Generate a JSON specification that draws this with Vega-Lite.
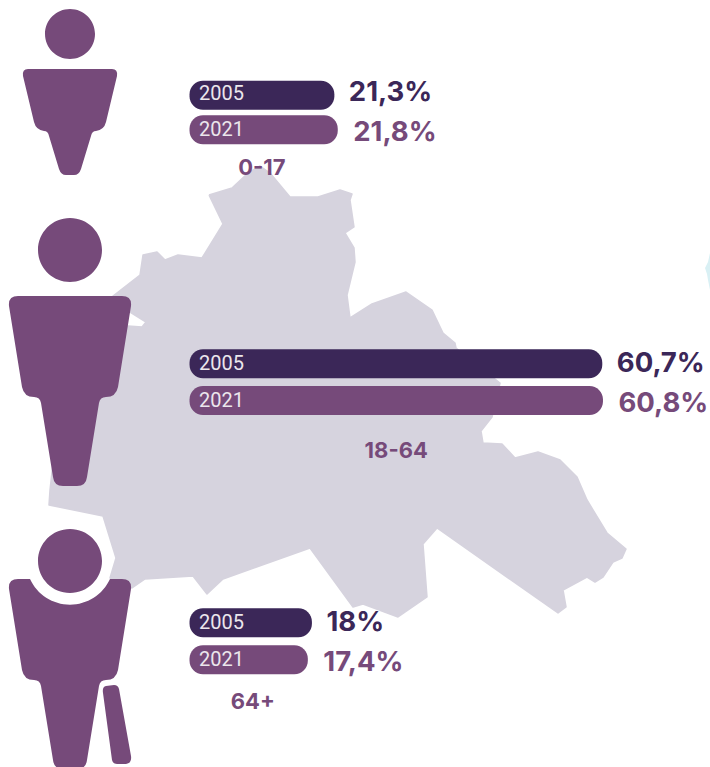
{
"$schema":"https://vega.github.io/schema/vega-lite/v6.json",
"width":710,"height":767,"padding":0,
"autosize":{"type":"none"},
"background":"#ffffff",
"view":{"stroke":null},
"config":{"view":{"stroke":null}},
"datasets":{
"bars":[
{"row":1,"age":"0-17","year":"2005","share":21.3,"label":"21,3%"},
{"row":2,"age":"0-17","year":"2021","share":21.8,"label":"21,8%"},
{"row":4,"age":"18-64","year":"2005","share":60.7,"label":"60,7%"},
{"row":5,"age":"18-64","year":"2021","share":60.8,"label":"60,8%"},
{"row":7,"age":"64+","year":"2005","share":18,"label":"18%"},
{"row":8,"age":"64+","year":"2021","share":17.4,"label":"17,4%"}
],
"ages":[
{"row":3,"age":"0-17","center":10.65},
{"row":6,"age":"18-64","center":30.4},
{"row":9,"age":"64+","center":9.3}
],
"map":[
{"i":1,"mx":209,"my":195},{"i":2,"mx":232,"my":188},{"i":3,"mx":248,"my":173},{"i":4,"mx":260,"my":166},{"i":5,"mx":270,"my":173},{"i":6,"mx":290,"my":197},{"i":7,"mx":318,"my":197},{"i":8,"mx":340,"my":190},{"i":9,"mx":352,"my":194},{"i":10,"mx":350,"my":200},{"i":11,"mx":354,"my":227},{"i":12,"mx":345,"my":233},{"i":13,"mx":354,"my":248},{"i":14,"mx":355,"my":262},{"i":15,"mx":347,"my":295},{"i":16,"mx":350,"my":318},{"i":17,"mx":372,"my":304},{"i":18,"mx":406,"my":292},{"i":19,"mx":432,"my":310},{"i":20,"mx":443,"my":333},{"i":21,"mx":455,"my":343},{"i":22,"mx":456,"my":348},{"i":23,"mx":500,"my":383},{"i":24,"mx":492,"my":417},{"i":25,"mx":481,"my":431},{"i":26,"mx":483,"my":443},{"i":27,"mx":502,"my":444},{"i":28,"mx":515,"my":458},{"i":29,"mx":538,"my":452},{"i":30,"mx":560,"my":460},{"i":31,"mx":577,"my":477},{"i":32,"mx":587,"my":500},{"i":33,"mx":607,"my":533},{"i":34,"mx":626,"my":549},{"i":35,"mx":622,"my":558},{"i":36,"mx":613,"my":562},{"i":37,"mx":603,"my":577},{"i":38,"mx":595,"my":582},{"i":39,"mx":587,"my":577},{"i":40,"mx":563,"my":590},{"i":41,"mx":566,"my":607},{"i":42,"mx":558,"my":613},{"i":43,"mx":437,"my":528},{"i":44,"mx":423,"my":544},{"i":45,"mx":427,"my":597},{"i":46,"mx":398,"my":617},{"i":47,"mx":363,"my":604},{"i":48,"mx":353,"my":607},{"i":49,"mx":310,"my":548},{"i":50,"mx":223,"my":579},{"i":51,"mx":207,"my":594},{"i":52,"mx":193,"my":576},{"i":53,"mx":145,"my":579},{"i":54,"mx":132,"my":588},{"i":55,"mx":110,"my":578},{"i":56,"mx":116,"my":558},{"i":57,"mx":103,"my":516},{"i":58,"mx":49,"my":505},{"i":59,"mx":50,"my":490},{"i":60,"mx":60,"my":400},{"i":61,"mx":100,"my":330},{"i":62,"mx":128,"my":326},{"i":63,"mx":142,"my":327},{"i":64,"mx":146,"my":322},{"i":65,"mx":130,"my":312},{"i":66,"mx":113,"my":296},{"i":67,"mx":140,"my":275},{"i":68,"mx":143,"my":255},{"i":69,"mx":157,"my":252},{"i":70,"mx":165,"my":260},{"i":71,"mx":178,"my":255},{"i":72,"mx":202,"my":258},{"i":73,"mx":223,"my":224},{"i":74,"mx":209,"my":195}
],
"icons":[
{"icon":"child","ix":70,"iy":92},
{"icon":"adult","ix":70,"iy":350},
{"icon":"senior","ix":70,"iy":633},
{"icon":"fragment","ix":708,"iy":272}
]
},
"resolve":{"scale":{"x":"independent","y":"independent","color":"independent"}},
"layer":[
{
"data":{"name":"map"},
"mark":{"type":"line","fill":"#d6d3de","stroke":"#d6d3de","strokeWidth":1.5,"strokeJoin":"round","interpolate":"linear"},
"encoding":{
"x":{"field":"mx","type":"quantitative","axis":null,"scale":{"domain":[0,710],"nice":false,"zero":false}},
"y":{"field":"my","type":"quantitative","axis":null,"scale":{"domain":[767,0],"nice":false,"zero":false}},
"order":{"field":"i","type":"quantitative"}
}
},
{
"data":{"name":"icons"},
"mark":{"type":"point","filled":true,"opacity":1,"size":4,"strokeWidth":0},
"encoding":{
"x":{"field":"ix","type":"quantitative","axis":null,"scale":{"domain":[0,710],"nice":false,"zero":false}},
"y":{"field":"iy","type":"quantitative","axis":null,"scale":{"domain":[767,0],"nice":false,"zero":false}},
"color":{"field":"icon","type":"nominal","legend":null,"scale":{"domain":["child","adult","senior","fragment"],"range":["#764a7a","#764a7a","#764a7a","#d9f0f4"]}},
"shape":{"field":"icon","type":"nominal","legend":null,"scale":{"domain":["child","adult","senior","fragment"],"range":[
"M-25,-58A25,25 0 1 1 25,-58A25,25 0 1 1 -25,-58ZM-42,-23L42,-23Q48,-23 47,-16L36,30Q34,38 26,39Q22,39 21,44L11,77Q9,83 4,83L-4,83Q-9,83 -11,77L-21,44Q-22,39 -26,39Q-34,38 -36,30L-47,-16Q-48,-23 -42,-23Z",
"M-32,-100A32,32 0 1 1 32,-100A32,32 0 1 1 -32,-100ZM-52,-54L52,-54Q62,-54 61,-44L48,37Q46,47 36,47Q30,47 29,53L17,127Q16,136 7,136L-7,136Q-16,136 -17,127L-29,53Q-30,47 -36,47Q-46,47 -48,37L-61,-44Q-62,-54 -52,-54Z",
"M-32,-72A32,32 0 1 1 32,-72A32,32 0 1 1 -32,-72ZM-52,-54L-40,-54A44,44 0 0 0 40,-54L52,-54Q62,-54 61,-44L48,37Q46,47 36,47Q30,47 29,53L17,127Q16,136 7,136L-7,136Q-16,136 -17,127L-29,53Q-30,47 -36,47Q-46,47 -48,37L-61,-44Q-62,-54 -52,-54ZM36,53L44,52Q48,52 49,56L61,123Q62,130 56,131L47,131Q43,131 42,127L33,60Q32,54 36,53Z",
"M2,-19L0,-10L-3,-4L-1,2L0,8L2,18L8,18L8,-19Z"
]}}
}
},
{
"data":{"name":"bars"},
"mark":{"type":"bar","orient":"horizontal","size":29,"cornerRadius":13.5},
"encoding":{
"x":{"field":"share","type":"quantitative","stack":null,"axis":null,"scale":{"domain":[-27.87,76.54],"nice":false,"zero":false}},
"y":{"field":"row","type":"quantitative","axis":null,"scale":{"domain":[1,2,3,4,5,6,7,8,9],"range":[93,129.7,168,363.7,400.5,451,622.7,659.7,702],"nice":false,"zero":false}},
"color":{"field":"year","type":"nominal","legend":null,"scale":{"domain":["2005","2021"],"range":["#3b2758","#764a7a"]}}
}
},
{
"data":{"name":"bars"},
"mark":{"type":"text","align":"left","baseline":"middle","dx":9.5,"dy":0.5,"font":"Roboto","fontSize":20,"fill":"#ebe6ec"},
"encoding":{
"x":{"datum":0,"type":"quantitative","axis":null,"scale":{"domain":[-27.87,76.54],"nice":false,"zero":false}},
"y":{"field":"row","type":"quantitative","axis":null,"scale":{"domain":[1,2,3,4,5,6,7,8,9],"range":[93,129.7,168,363.7,400.5,451,622.7,659.7,702],"nice":false,"zero":false}},
"text":{"field":"year","type":"nominal"}
}
},
{
"data":{"name":"bars"},
"transform":[{"filter":"datum.year === '2005'"}],
"mark":{"type":"text","align":"left","baseline":"middle","dx":14.5,"font":"Inter","fontSize":27.5,"fontWeight":"bold","fill":"#3b2758"},
"encoding":{
"x":{"field":"share","type":"quantitative","axis":null,"scale":{"domain":[-27.87,76.54],"nice":false,"zero":false}},
"y":{"field":"row","type":"quantitative","axis":null,"scale":{"domain":[1,2,3,4,5,6,7,8,9],"range":[93,129.7,168,363.7,400.5,451,622.7,659.7,702],"nice":false,"zero":false}},
"text":{"field":"label","type":"nominal"}
}
},
{
"data":{"name":"bars"},
"transform":[{"filter":"datum.year === '2021'"}],
"mark":{"type":"text","align":"left","baseline":"middle","dx":15.5,"dy":3,"font":"Inter","fontSize":27.5,"fontWeight":"bold","fill":"#764a7a"},
"encoding":{
"x":{"field":"share","type":"quantitative","axis":null,"scale":{"domain":[-27.87,76.54],"nice":false,"zero":false}},
"y":{"field":"row","type":"quantitative","axis":null,"scale":{"domain":[1,2,3,4,5,6,7,8,9],"range":[93,129.7,168,363.7,400.5,451,622.7,659.7,702],"nice":false,"zero":false}},
"text":{"field":"label","type":"nominal"}
}
},
{
"data":{"name":"ages"},
"mark":{"type":"text","align":"center","baseline":"middle","font":"Inter","fontSize":22,"fontWeight":"bold","fill":"#764a7a"},
"encoding":{
"x":{"field":"center","type":"quantitative","axis":null,"scale":{"domain":[-27.87,76.54],"nice":false,"zero":false}},
"y":{"field":"row","type":"quantitative","axis":null,"scale":{"domain":[1,2,3,4,5,6,7,8,9],"range":[93,129.7,168,363.7,400.5,451,622.7,659.7,702],"nice":false,"zero":false}},
"text":{"field":"age","type":"nominal"}
}
}
]
}
